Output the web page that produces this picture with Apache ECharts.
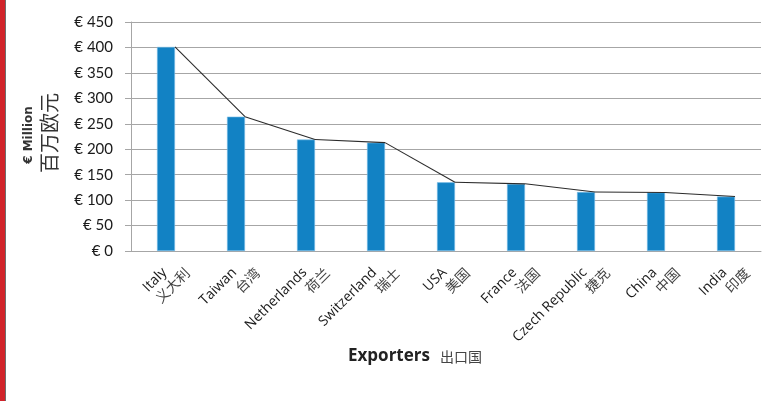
<!DOCTYPE html>
<html>
<head>
<meta charset="utf-8">
<script src="https://cdn.jsdelivr.net/npm/echarts@6/dist/echarts.min.js"></script>
<style>
    html, body { margin: 0; padding: 0; background: #fff; }
    #chart { width: 779px; height: 401px; }
</style>
</head>
<body>
<div id="chart"></div>
<script>
    // data
    var namesEn = ['Italy', 'Taiwan', 'Netherlands', 'Switzerland', 'USA', 'France', 'Czech Republic', 'China', 'India'];
    var namesZh = ['义大利', '台湾', '荷兰', '瑞士', '美国', '法国', '捷克', '中国', '印度'];
    var values = [401, 264, 219, 213, 135, 132, 116, 115, 107];
    var yTicks = [0, 50, 100, 150, 200, 250, 300, 350, 400, 450];

    var barW = 18;
    var chart = echarts.init(document.getElementById('chart'));

    var option = {
        animation: false,
        grid: {
            left: 131,
            right: 18,
            top: 22,
            bottom: 150
        },
        xAxis: [
            {
                type: 'category',
                data: namesEn,
                position: 'bottom',
                axisLine: { lineStyle: { color: '#a6a6a6', width: 1 } },
                axisTick: { show: false },
                axisLabel: {
                    interval: 0,
                    rotate: 45,
                    margin: 8,
                    verticalAlign: 'top',
                    padding: [0, 9, 0, 0],
                    fontFamily: 'Open Sans',
                    fontSize: 14,
                    color: '#1a1a1a'
                }
            },
            {
                // chinese names sit as a second row of labels under the same ticks
                type: 'category',
                data: namesZh,
                position: 'bottom',
                axisLine: { show: false },
                axisTick: { show: false },
                splitLine: { show: false },
                axisLabel: {
                    interval: 0,
                    rotate: 45,
                    margin: -6,
                    verticalAlign: 'top',
                    padding: [26, 3, 0, 0],
                    fontFamily: 'Noto Sans CJK SC',
                    fontSize: 14,
                    color: '#444'
                }
            }
        ],
        yAxis: {
            type: 'value',
            min: 0,
            max: yTicks[yTicks.length - 1],
            interval: 50,
            axisLine: { show: true, lineStyle: { color: '#a6a6a6' } },
            axisTick: { show: true, length: 6, lineStyle: { color: '#a6a6a6' } },
            splitLine: { lineStyle: { color: '#a6a6a6', width: 1 } },
            axisLabel: {
                margin: 18,
                fontFamily: 'Lato',
                fontSize: 15,
                color: '#1a1a1a',
                formatter: function (v) { return '€ ' + v; }
            }
        },
        graphic: [
            { type: 'rect', left: 0, top: 0, shape: { width: 5, height: 401 }, style: { fill: '#d1232a' } },
            { type: 'rect', left: 5, top: 0, shape: { width: 1, height: 401 }, style: { fill: '#6e6e6e' } },
            {
                type: 'text', x: 29, y: 135, rotation: Math.PI / 2,
                style: { text: '€ Million', font: 'bold 12px "DejaVu Sans"', fill: '#333', align: 'center', verticalAlign: 'middle' }
            },
            {
                type: 'text', x: 49, y: 133, rotation: Math.PI / 2,
                style: { text: '百万欧元', font: '20px "Noto Sans CJK SC"', fill: '#333', align: 'center', verticalAlign: 'middle' }
            },
            {
                type: 'text', x: 348, y: 356,
                style: { text: 'Exporters', font: 'bold 17px "Open Sans"', fill: '#222', verticalAlign: 'middle' }
            },
            {
                type: 'text', x: 440, y: 357,
                style: { text: '出口国', font: '14px "Noto Sans CJK SC"', fill: '#444', verticalAlign: 'middle' }
            }
        ],
        series: [
            {
                type: 'bar',
                data: values,
                barWidth: barW,
                itemStyle: { color: '#1282c4', borderColor: '#7cc0e8', borderWidth: 0.6 },
                z: 2
            },
            {
                type: 'custom',
                data: values,
                z: 3,
                renderItem: function (params, api) {
                    var i = params.dataIndex;
                    if (i >= values.length - 1) return;
                    var p1 = api.coord([i, values[i]]);
                    var p2 = api.coord([i + 1, values[i + 1]]);
                    return {
                        type: 'line',
                        shape: { x1: p1[0] + barW / 2, y1: p1[1], x2: p2[0] + barW / 2, y2: p2[1] },
                        style: { stroke: '#2b2b2b', lineWidth: 1.1 }
                    };
                }
            }
        ]
    };

    chart.setOption(option);
</script>
</body>
</html>
